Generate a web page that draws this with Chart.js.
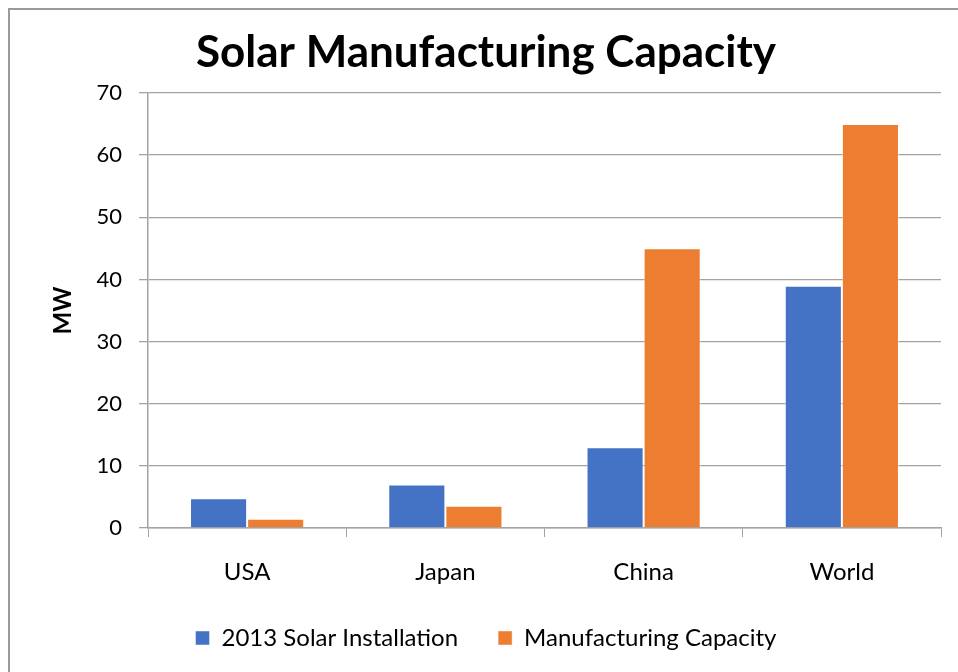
<!DOCTYPE html>
<html>
<head>
<meta charset="utf-8">
<title>Solar Manufacturing Capacity</title>
<script src="https://cdn.jsdelivr.net/npm/chart.js@4/dist/chart.umd.min.js"></script>
<style>
  html, body { margin: 0; padding: 0; background: #fff; overflow: hidden; width: 958px; height: 672px; }
  .frame { position: absolute; left: 8px; top: 8px; width: 1000px; height: 1000px; border: 2px solid #9a9a9a; }
  #solarChart { position: absolute; left: 0; top: 0; }
</style>
</head>
<body>
<div class="frame"></div>
<canvas id="solarChart" width="958" height="672"></canvas>
<script>
const regions = ['USA', 'Japan', 'China', 'World'];
const installed2013 = [4.8, 7, 13, 39];
const mfgCapacity = [1.5, 3.6, 45, 65];
const seriesNames = ['2013 Solar Installation', 'Manufacturing Capacity'];
const yTicks = [0, 10, 20, 30, 40, 50, 60, 70];

const blue = '#4472C4';
const orange = '#ED7D31';
const gridGray = '#a3a3a3';
const fontFamily = 'Lato, "Open Sans", sans-serif';

document.addEventListener('DOMContentLoaded', function () {
  const ctx = document.getElementById('solarChart');

  if (typeof Chart === 'undefined') {
    console.error('Chart.js not loaded');
    return;
  }

  Chart.defaults.font.family = fontFamily;
  Chart.defaults.color = '#000';

  new Chart(ctx, {
    type: 'bar',
    data: {
      labels: regions,
      datasets: [
        {
          label: seriesNames[0],
          data: installed2013,
          backgroundColor: blue,
          borderColor: 'rgba(255,255,255,0.45)',
          borderWidth: 1
        },
        {
          label: seriesNames[1],
          data: mfgCapacity,
          backgroundColor: orange,
          borderColor: 'rgba(255,255,255,0.45)',
          borderWidth: 1
        }
      ]
    },
    options: {
      responsive: false,
      animation: false,
      devicePixelRatio: 1,
      // left padding keeps the title and legend centred on the framed box
      layout: {
        padding: { left: 31, right: 17, top: 0, bottom: 12 }
      },
      datasets: {
        bar: {
          categoryPercentage: 0.576,
          barPercentage: 1
        }
      },
      plugins: {
        title: {
          display: true,
          text: 'Solar Manufacturing Capacity',
          color: '#000',
          font: { size: 44, weight: 'bold' },
          padding: { top: 26.6, bottom: 13.6 }
        },
        legend: {
          position: 'bottom',
          labels: {
            boxWidth: 14,
            boxHeight: 14,
            padding: 40,
            color: '#000',
            font: { size: 24 }
          }
        },
        tooltip: { enabled: false }
      },
      scales: {
        x: {
          afterFit: function (scale) {
            scale.height = 58;
          },
          grid: {
            drawOnChartArea: false,
            drawTicks: true,
            tickLength: 9,
            color: gridGray
          },
          border: { color: gridGray, width: 1.5 },
          ticks: {
            padding: 20.6,
            color: '#000',
            font: { size: 24 }
          }
        },
        y: {
          min: 0,
          max: 70,
          afterFit: function (scale) {
            scale.width = 117;
          },
          afterBuildTicks: function (scale) {
            scale.ticks = yTicks.map(v => ({ value: v }));
          },
          grid: {
            color: gridGray,
            lineWidth: 1.3,
            tickLength: 9
          },
          border: { color: gridGray, width: 1.5 },
          ticks: {
            padding: 17,
            color: '#000',
            font: { size: 22 }
          },
          title: {
            display: true,
            text: 'MW',
            color: '#000',
            font: { size: 24, weight: 'bold' },
            padding: { top: 17.6, bottom: 0 }
          }
        }
      }
    }
  });
});
</script>
</body>
</html>
